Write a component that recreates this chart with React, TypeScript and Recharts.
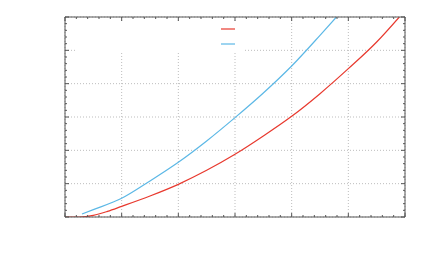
import { CartesianGrid, Legend, Line, LineChart, XAxis, YAxis } from "recharts";

const redX = [0, 0.25, 0.5, 0.75, 1, 1.5, 2, 2.5, 3, 3.5, 4, 4.5, 5, 5.5, 5.9];
const redY = [0, 0.0, 0.05, 0.17, 0.32, 0.63, 0.98, 1.4, 1.88, 2.43, 3.02, 3.7, 4.45, 5.25, 6.0];

const blueX = [0.3, 0.5, 1, 1.5, 2, 2.5, 3, 3.5, 4, 4.5, 4.79];
const blueY = [0.09, 0.22, 0.56, 1.08, 1.64, 2.28, 2.98, 3.72, 4.53, 5.45, 6.0];

const majorTicks = [0, 1, 2, 3, 4, 5, 6];
const minorTicks = Array.from({ length: 31 }, (_, i) => i / 5);

const redData = redX.map((x, i) => ({ x, y: redY[i] }));
const blueData = blueX.map((x, i) => ({ x, y: blueY[i] }));

const AXIS = "#555";
const RED = "#e8392e";
const BLUE = "#5cb8e6";
const legendColors = [RED, BLUE];

const isMajor = (v: number) => Math.abs(v - Math.round(v)) < 1e-6;
const len = (v: number) => (isMajor(v) ? 4 : 2);

const BottomTick = (p: any) => (
  <line x1={p.x} y1={p.y} x2={p.x} y2={p.y - len(p.payload.value)} stroke={AXIS} />
);
const TopTick = (p: any) => (
  <line x1={p.x} y1={p.y} x2={p.x} y2={p.y + len(p.payload.value)} stroke={AXIS} />
);
const LeftTick = (p: any) => (
  <line x1={p.x} y1={p.y} x2={p.x + len(p.payload.value)} y2={p.y} stroke={AXIS} />
);
const RightTick = (p: any) => (
  <line x1={p.x} y1={p.y} x2={p.x - len(p.payload.value)} y2={p.y} stroke={AXIS} />
);

function LegendBox() {
  return (
    <div style={{ width: 169, height: 30, background: "#fff" }}>
      <svg width={169} height={30}>
        {legendColors.map((c, i) => (
          <line key={i} x1={146} x2={160} y1={7 + i * 15} y2={7 + i * 15} stroke={c} strokeWidth={1.2} />
        ))}
      </svg>
    </div>
  );
}

const axisCommon = {
  type: "number" as const,
  domain: [0, 6],
  allowDataOverflow: true,
  mirror: true,
  tickLine: false,
  axisLine: { stroke: AXIS },
  tickSize: 0,
  tickMargin: 0,
  interval: 0 as const,
};

export default function App() {
  return (
    <div style={{ position: "absolute", left: 0, top: 0, background: "#fff" }}>
      <LineChart width={432} height={267} margin={{ top: 17, right: 27, bottom: 50, left: 65 }}>
        <CartesianGrid
          xAxisId="b"
          yAxisId="l"
          verticalValues={majorTicks}
          horizontalValues={majorTicks}
          stroke="#bdbdbd"
          strokeDasharray="1 2"
        />
        <XAxis xAxisId="b" dataKey="x" orientation="bottom" height={1} ticks={minorTicks} tick={BottomTick} {...axisCommon} />
        <XAxis xAxisId="t" dataKey="x" orientation="top" height={1} ticks={minorTicks} tick={TopTick} {...axisCommon} />
        <YAxis yAxisId="l" orientation="left" width={1} ticks={minorTicks} tick={LeftTick} {...axisCommon} />
        <YAxis yAxisId="r" orientation="right" width={1} ticks={minorTicks} tick={RightTick} {...axisCommon} />
        <Legend
          layout="vertical"
          align="center"
          verticalAlign="middle"
          wrapperStyle={{ left: 75, top: 22, width: 169, height: 30 }}
          content={LegendBox}
        />
        <Line
          xAxisId="b"
          yAxisId="l"
          data={redData}
          dataKey="y"
          name="red"
          type="monotone"
          stroke={RED}
          strokeWidth={1.2}
          dot={false}
          isAnimationActive={false}
        />
        <Line
          xAxisId="b"
          yAxisId="l"
          data={blueData}
          dataKey="y"
          name="blue"
          type="monotone"
          stroke={BLUE}
          strokeWidth={1.2}
          dot={false}
          isAnimationActive={false}
        />
      </LineChart>
    </div>
  );
}
